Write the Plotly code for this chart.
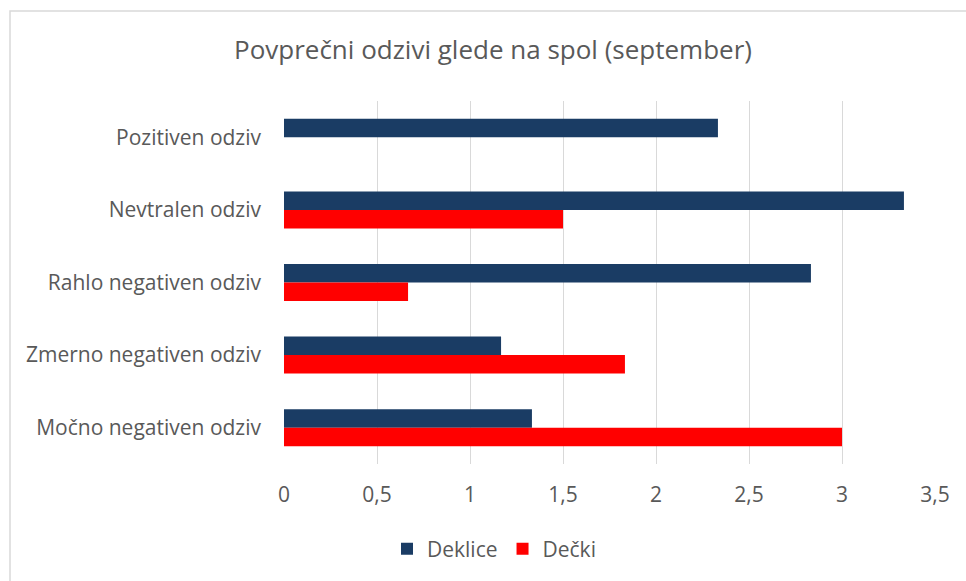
import plotly.graph_objects as go

categories = ["Pozitiven odziv", "Nevtralen odziv", "Rahlo negativen odziv",
              "Zmerno negativen odziv", "Močno negativen odziv"]
deklice = [2.333, 3.333, 2.833, 1.167, 1.333]
decki = [0, 1.5, 0.667, 1.833, 3.0]
x_ticks = [0, 0.5, 1, 1.5, 2, 2.5, 3, 3.5]
x_tick_labels = ["0", "0,5", "1", "1,5", "2", "2,5", "3", "3,5"]

FONT = "Open Sans"
TXT = "#595959"

fig = go.Figure()
fig.add_trace(go.Bar(y=categories, x=deklice, orientation="h", name="Deklice",
                     marker=dict(color="#1a3c64", line=dict(width=0))))
fig.add_trace(go.Bar(y=categories, x=decki, orientation="h", name="Dečki",
                     marker=dict(color="#ff0000", line=dict(width=0))))

W, H = 966, 581
L, R, T, B = 284, 31, 101, 117
pw, ph = W - L - R, H - T - B

def px_x(p):
    return (p - L) / pw

def px_y(p):
    return (H - B - p) / ph

fig.update_layout(
    width=W, height=H,
    margin=dict(l=L, r=R, t=T, b=B),
    paper_bgcolor="white", plot_bgcolor="white",
    barmode="group", bargap=0.49, bargroupgap=0,
    font=dict(family=FONT, color=TXT, size=21),
    title=dict(text="Povprečni odzivi glede na spol (september)",
               x=493 / W, xref="container", xanchor="center",
               y=1 - 50 / H, yref="container", yanchor="middle",
               font=dict(family=FONT, size=26, color=TXT)),
    legend=dict(orientation="h", x=px_x(494), xanchor="center",
                y=px_y(549), yanchor="middle",
                font=dict(family=FONT, size=21, color=TXT),
                traceorder="normal"),
    xaxis=dict(range=[0, 3.5], tickvals=x_ticks, ticktext=x_tick_labels,
               showgrid=True, gridcolor="#d9d9d9", gridwidth=1,
               zeroline=False, showline=False, ticks="",
               ticklabelstandoff=16, tickfont=dict(size=21)),
    yaxis=dict(autorange="reversed", showgrid=False, zeroline=False,
               showline=False, ticks="", ticklabelstandoff=22,
               tickfont=dict(size=21)),
    showlegend=True,
)

fig.add_shape(type="rect", xref="paper", yref="paper",
              x0=px_x(10), x1=px_x(W + 20), y0=px_y(H + 20), y1=px_y(11),
              line=dict(color="#d9d9d9", width=1.5), fillcolor="rgba(0,0,0,0)",
              layer="below")

fig.write_html("out.html", config={"displayModeBar": False})

with open("out.html", "r", encoding="utf-8") as f:
    html = f.read()
html = html.replace("<body>", '<body style="margin:0;padding:0;">', 1)
with open("out.html", "w", encoding="utf-8") as f:
    f.write(html)
